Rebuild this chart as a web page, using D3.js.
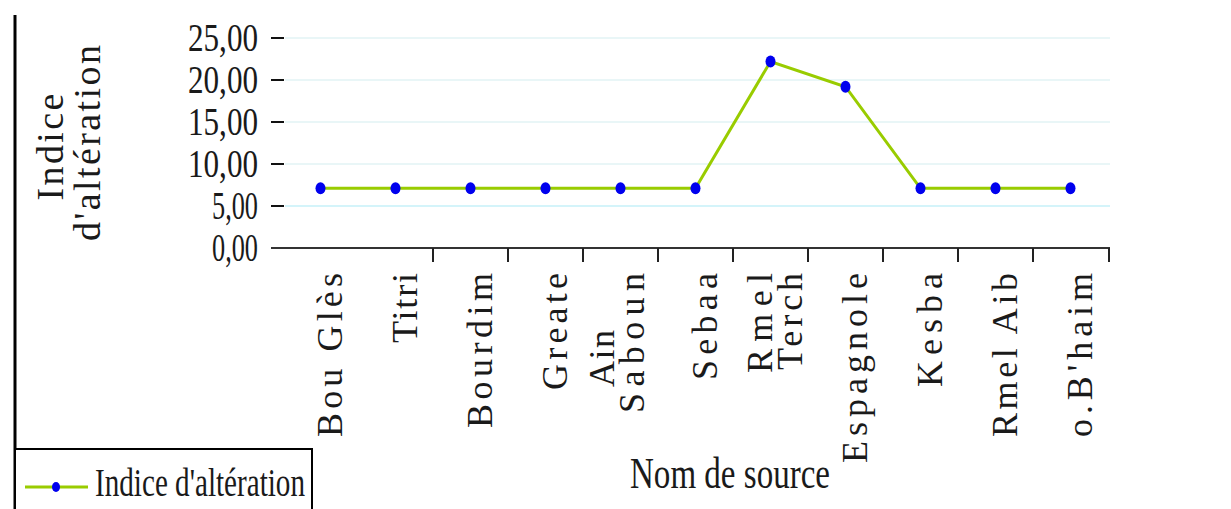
<!DOCTYPE html>
<html>
<head>
<meta charset="utf-8">
<script src="https://cdn.jsdelivr.net/npm/d3@7"></script>
<style>
  body { margin: 0; background: #fff; }
  text { font-family: "Liberation Serif", "DejaVu Serif", serif; fill: #1a1a1a; }
</style>
</head>
<body>
<svg id="chart" width="1231" height="509"></svg>
<script>
// data
var sources = ["Bou Glès", "Titri", "Bourdim", "Greate", "Ain Saboun", "Sebaa",
               "Rmel Terch", "Espagnole", "Kesba", "Rmel Aib", "o.B'haim"];
var sourceLines = [["Bou Glès"], ["Titri"], ["Bourdim"], ["Greate"], ["Ain", "Saboun"], ["Sebaa"],
                   ["Rmel", "Terch"], ["Espagnole"], ["Kesba"], ["Rmel Aib"], ["o.B'haim"]];
var indice = [7.1, 7.1, 7.1, 7.1, 7.1, 7.1, 22.2, 19.2, 7.1, 7.1, 7.1];
var yTicks = [0, 5, 10, 15, 20, 25];
var yTickLabels = ["0,00", "5,00", "10,00", "15,00", "20,00", "25,00"];
var seriesName = "Indice d'altération";

var svg = d3.select("#chart");

var xs = d3.scaleBand().domain(sources).range([283, 1108]);
var ys = d3.scaleLinear().domain([0, 25]).range([248, 38]);
var cx = function(d) { return xs(d) + xs.bandwidth() / 2; };

// frame line on the left
svg.append("line")
  .attr("x1", 15).attr("x2", 15).attr("y1", 15).attr("y2", 509)
  .attr("stroke", "#000").attr("stroke-width", 3);

// gridlines
svg.append("g").selectAll("line")
  .data(yTicks.filter(function(t) { return t > 0; }))
  .enter().append("line")
  .attr("x1", 285).attr("x2", 1110)
  .attr("y1", function(d) { return ys(d); })
  .attr("y2", function(d) { return ys(d); })
  .attr("stroke", function(d) { return d == 5 ? "#c6f0f8" : "#e2f3f5"; })
  .attr("stroke-width", 1.5);

// y tick marks
svg.append("g").selectAll("line")
  .data(yTicks.filter(function(t) { return t > 0; }))
  .enter().append("line")
  .attr("x1", 271).attr("x2", 284)
  .attr("y1", function(d) { return ys(d); })
  .attr("y2", function(d) { return ys(d); })
  .attr("stroke", "#111").attr("stroke-width", 2);

// y tick labels (narrow serif, squeezed with textLength)
svg.append("g").selectAll("text")
  .data(yTicks)
  .enter().append("text")
  .attr("x", 258)
  .attr("y", function(d) { return ys(d) + 13; })
  .attr("text-anchor", "end")
  .attr("font-size", "39px")
  .attr("textLength", function(d, i) { return yTickLabels[i].length == 5 ? 70 : 46; })
  .attr("lengthAdjust", "spacingAndGlyphs")
  .text(function(d, i) { return yTickLabels[i]; });

// x axis line + ticks on category edges
svg.append("line")
  .attr("x1", 271).attr("x2", 1110).attr("y1", 248).attr("y2", 248)
  .attr("stroke", "#333").attr("stroke-width", 2);
svg.append("g").selectAll("line")
  .data(sources.slice(2).concat(["_end"]))
  .enter().append("line")
  .attr("x1", function(d) { return d == "_end" ? 1109 : xs(d); })
  .attr("x2", function(d) { return d == "_end" ? 1109 : xs(d); })
  .attr("y1", 248).attr("y2", 262)
  .attr("stroke", "#222").attr("stroke-width", 2);

// rotated category labels
var lineLens = {"Bou Glès": 164, "Titri": 70, "Bourdim": 155, "Greate": 117, "Ain": 57, "Saboun": 140,
                "Sebaa": 107, "Rmel": 100, "Terch": 97, "Espagnole": 190, "Kesba": 114,
                "Rmel Aib": 164, "o.B'haim": 164};
sourceLines.forEach(function(lines, i) {
  var c = cx(sources[i]);
  var shift = sources[i] == "Rmel Terch" ? 8 : 0;
  lines.forEach(function(l, j) {
    var bx = lines.length == 1 ? c + 21 : c - 7 + shift + j * 30;
    var top = (l == "Ain") ? 330 : 273;
    svg.append("text")
      .attr("transform", "translate(" + bx + "," + top + ") rotate(-90)")
      .attr("text-anchor", "end")
      .attr("font-size", "36px")
      .attr("textLength", lineLens[l])
      .attr("lengthAdjust", "spacing")
      .text(l);
  });
});

// the series line
svg.append("path")
  .datum(indice)
  .attr("fill", "none")
  .attr("stroke", "#99cc00")
  .attr("stroke-width", 3)
  .attr("d", d3.line()
    .x(function(d, i) { return cx(sources[i]); })
    .y(function(d) { return ys(d); }));

svg.append("g").selectAll("ellipse")
  .data(indice)
  .enter().append("ellipse")
  .attr("cx", function(d, i) { return cx(sources[i]); })
  .attr("cy", function(d) { return ys(d); })
  .attr("rx", 5).attr("ry", 6)
  .attr("fill", "#0000ee");

// y axis title (two lines, rotated)
svg.append("text")
  .attr("transform", "translate(63,147) rotate(-90)")
  .attr("text-anchor", "middle")
  .attr("font-size", "38px")
  .attr("textLength", 107).attr("lengthAdjust", "spacing")
  .text("Indice");
svg.append("text")
  .attr("transform", "translate(100,143) rotate(-90)")
  .attr("text-anchor", "middle")
  .attr("font-size", "38px")
  .attr("textLength", 196).attr("lengthAdjust", "spacing")
  .text("d'altération");

// x axis title
svg.append("text")
  .attr("x", 630).attr("y", 488)
  .attr("font-size", "44px")
  .attr("textLength", 200).attr("lengthAdjust", "spacingAndGlyphs")
  .text("Nom de source");

// legend
svg.append("rect")
  .attr("x", 15).attr("y", 449).attr("width", 297).attr("height", 70)
  .attr("fill", "#fff").attr("stroke", "#000").attr("stroke-width", 2);
svg.append("line")
  .attr("x1", 25).attr("x2", 88).attr("y1", 487).attr("y2", 487)
  .attr("stroke", "#99cc00").attr("stroke-width", 3);
svg.append("ellipse")
  .attr("cx", 56).attr("cy", 487).attr("rx", 4).attr("ry", 5)
  .attr("fill", "#0000ee");
svg.append("text")
  .attr("x", 95).attr("y", 496)
  .attr("font-size", "41px")
  .attr("textLength", 210).attr("lengthAdjust", "spacingAndGlyphs")
  .text(seriesName);
</script>
</body>
</html>
